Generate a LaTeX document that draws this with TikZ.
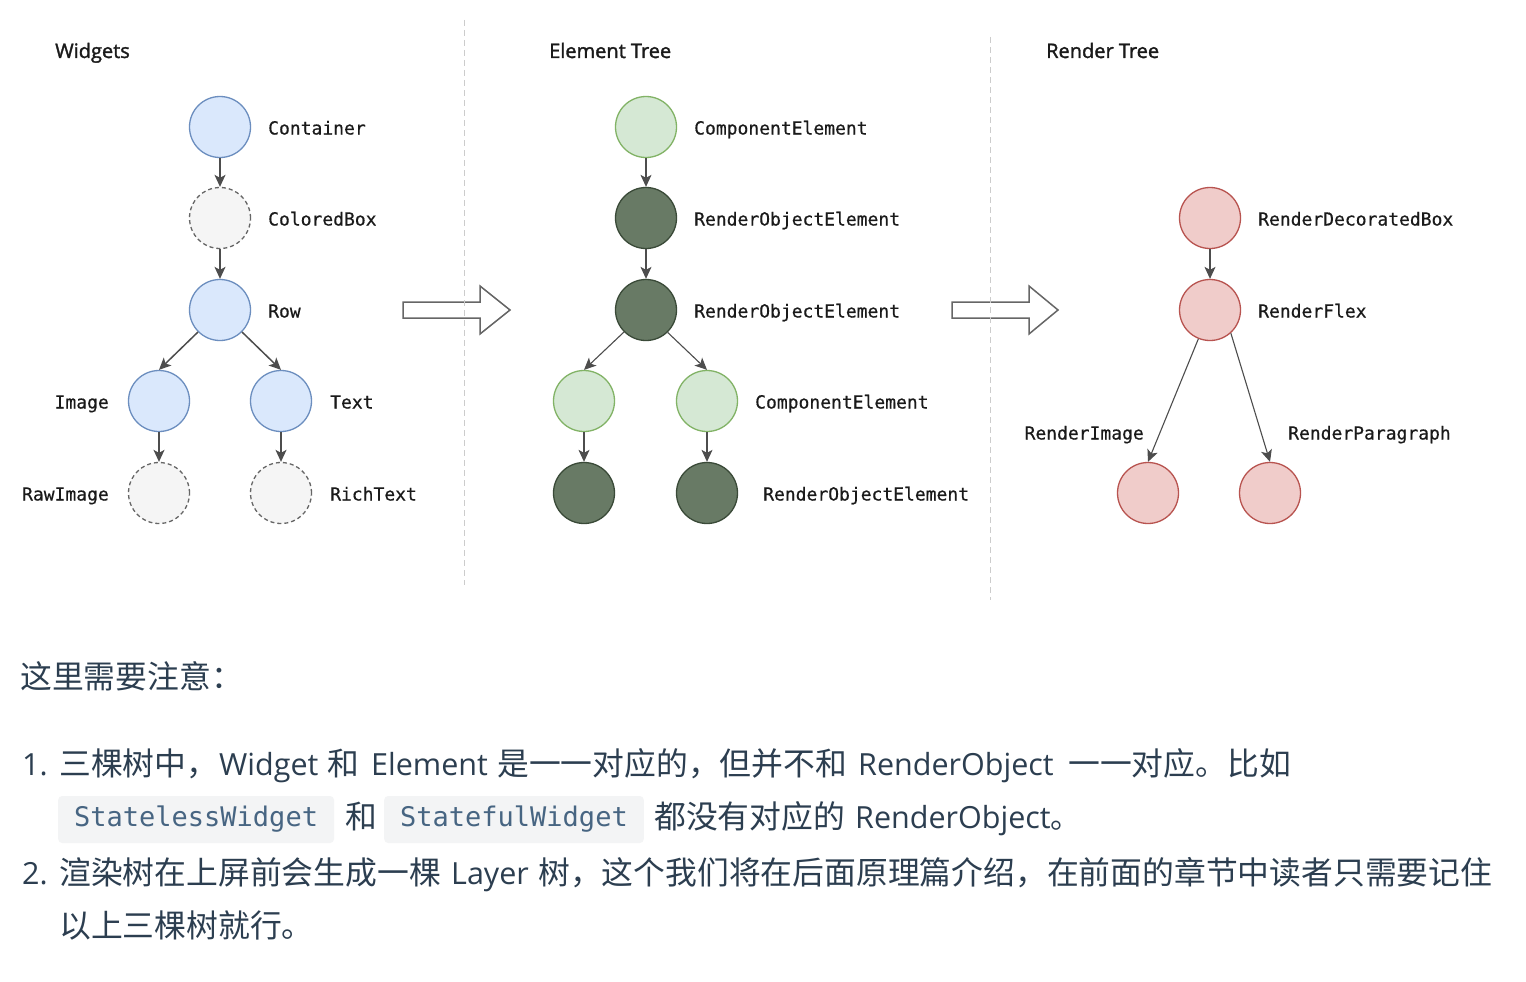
\documentclass[tikz,border=0pt]{standalone}
\usepackage{fontspec}
\setmainfont{Open Sans}
\newfontfamily\titlef[FakeBold=1.6]{Open Sans}
\newfontfamily\cjk{Noto Sans CJK SC}
\newfontfamily\monof{DejaVu Sans Mono}
\newfontfamily\monob[FakeBold=0.5]{DejaVu Sans Mono}
\usetikzlibrary{arrows.meta}
\definecolor{bluefill}{HTML}{DAE8FC}
\definecolor{blueedge}{HTML}{6C8EBF}
\definecolor{greyfill}{HTML}{F5F5F5}
\definecolor{greyedge}{HTML}{666666}
\definecolor{lgfill}{HTML}{D5E8D4}
\definecolor{lgedge}{HTML}{82B366}
\definecolor{dgfill}{HTML}{687A65}
\definecolor{dgedge}{HTML}{3A4A38}
\definecolor{rfill}{HTML}{F0CCCA}
\definecolor{redge}{HTML}{B85450}
\definecolor{arrowc}{HTML}{4D4D4D}
\definecolor{sepc}{HTML}{CCCCCC}
\definecolor{bigc}{HTML}{666666}
\definecolor{txtc}{HTML}{2C3E50}
\definecolor{codebg}{HTML}{F3F4F5}
\definecolor{codec}{HTML}{476582}
\definecolor{lblc}{HTML}{1A1A1A}
\tikzset{
  circ/.style={circle, minimum size=61pt, inner sep=0pt, line width=1.3pt},
  wblue/.style={circ, draw=blueedge, fill=bluefill},
  wgrey/.style={circ, draw=greyedge, fill=greyfill, dash pattern=on 4pt off 3pt},
  elight/.style={circ, draw=lgedge, fill=lgfill},
  edark/.style={circ, draw=dgedge, fill=dgfill},
  rred/.style={circ, draw=redge, fill=rfill},
  lbl/.style={anchor=base west, inner sep=0pt, text=lblc, font=\monob\fontsize{18}{20}\selectfont},
  lblr/.style={lbl, anchor=base east},
  ttl/.style={anchor=base west, inner sep=0pt, text=lblc, font=\titlef\fontsize{20}{24}\selectfont},
  conn/.style={draw=arrowc, line width=1.5pt, -{Stealth[length=12pt,width=11pt,inset=3pt]}},
  connb/.style={conn, line width=1.1pt},
  sepline/.style={draw=sepc, line width=1pt, dash pattern=on 6pt off 4pt},
  bigarrow/.style={draw=bigc, fill=white, line width=1.5pt, line join=miter},
  para/.style={anchor=base west, inner sep=0pt, text=txtc, font=\fontsize{30.5}{36}\selectfont},
  zh/.style={para, font=\cjk\fontsize{31.8}{36}\selectfont},
  codebox/.style={anchor=west, fill=codebg, rounded corners=4pt, inner xsep=16pt, inner ysep=0pt, minimum height=47pt, text=codec, font=\monof\fontsize{27}{30}\selectfont},
}
\begin{document}
\begin{tikzpicture}[x=1pt,y=-1pt]
\useasboundingbox[fill=white] (0,0) rectangle (1526,982);

% big arrows
\draw[bigarrow] (403,302) -- (480,302) -- (480,286) -- (510,310) -- (480,334) -- (480,318) -- (403,318) -- cycle;
\draw[bigarrow] (952,302) -- (1029,302) -- (1029,286) -- (1058,310) -- (1029,334) -- (1029,318) -- (952,318) -- cycle;

% separators
\draw[sepline] (464,20) -- (464,585);
\draw[sepline] (990,37) -- (990,600);

% titles
\node[ttl] (t1) at (55,58) {Widgets};
\node[ttl] (t2) at (549,58) {Element Tree};
\node[ttl] (t3) at (1046,58) {Render Tree};

% Widgets tree
\node[wblue] (wcont) at (220,127) {};
\node[wgrey] (wcbox) at (220,218) {};
\node[wblue] (wrow) at (220,310) {};
\node[wblue] (wimg) at (159,401) {};
\node[wblue] (wtxt) at (281,401) {};
\node[wgrey] (wraw) at (159,493) {};
\node[wgrey] (wrich) at (281,493) {};
\node[lbl] (lcont) at (268,134.5) {Container};
\node[lbl] (lcbox) at (268,225.5) {ColoredBox};
\node[lbl] (lrow) at (268,317.5) {Row};
\node[lblr] (limg) at (109,408.5) {Image};
\node[lbl] (ltxt) at (330,408.5) {Text};
\node[lblr] (lraw) at (109,500.5) {RawImage};
\node[lbl] (lrich) at (330,500.5) {RichText};
\draw[conn] (wcont.south) -- (wcbox.north);
\draw[conn] (wcbox.south) -- (wrow.north);
\draw[conn] (wrow.225) -- (wimg.north);
\draw[conn] (wrow.315) -- (wtxt.north);
\draw[conn] (wimg.south) -- (wraw.north);
\draw[conn] (wtxt.south) -- (wrich.north);

% Element tree
\node[elight] (e1) at (646,127) {};
\node[edark] (e2) at (646,218) {};
\node[edark] (e3) at (646,310) {};
\node[elight] (e4) at (584,401) {};
\node[elight] (e5) at (707,401) {};
\node[edark] (e6) at (584,493) {};
\node[edark] (e7) at (707,493) {};
\node[lbl] (le1) at (694,134.5) {ComponentElement};
\node[lbl] (le2) at (694,225.5) {RenderObjectElement};
\node[lbl] (le3) at (694,317.5) {RenderObjectElement};
\node[lbl] (le5) at (755,408.5) {ComponentElement};
\node[lbl] (le7) at (763,500.5) {RenderObjectElement};
\draw[connb] (e1.south) -- (e2.north);
\draw[connb] (e2.south) -- (e3.north);
\draw[connb] (e3.225) -- (e4.north);
\draw[connb] (e3.314) -- (e5.north);
\draw[connb] (e4.south) -- (e6.north);
\draw[connb] (e5.south) -- (e7.north);

% Render tree
\node[rred] (r1) at (1210,218) {};
\node[rred] (r2) at (1210,310) {};
\node[rred] (r3) at (1148,493) {};
\node[rred] (r4) at (1270,493) {};
\node[lbl] (lr1) at (1258,225.5) {RenderDecoratedBox};
\node[lbl] (lr2) at (1258,317.5) {RenderFlex};
\node[lblr] (lr3) at (1144,439.5) {RenderImage};
\node[lbl] (lr4) at (1288,439.5) {RenderParagraph};
\draw[connb] (r1.south) -- (r2.north);
\draw[connb] (r2.248) -- (r3.north);
\draw[connb] (r2.312) -- (r4.north);

% paragraph text
\node[zh] (h0) at (20,688) {这里需要注意：};

\node[para] (n1) at (22,775) {1.};
\node[zh] (a1) at (59,775) {三棵树中，};
\node[para] (a2) at (219,775) {Widget};
\node[zh] (a3) at (327,775) {和};
\node[para] (a4) at (371,775) {Element};
\node[zh] (a5) at (497,775) {是一一对应的，但并不和};
\node[para] (a6) at (858,775) {RenderObject};
\node[zh] (a7) at (1068,775) {一一对应。比如};

\node[codebox] (c1) at (58,819.5) {StatelessWidget};
\node[zh] (b1) at (345,828) {和};
\node[codebox] (c2) at (384,819.5) {StatefulWidget};
\node[zh] (b2) at (654,828) {都没有对应的};
\node[para] (b3) at (855,828) {RenderObject{\cjk 。}};

\node[para] (n2) at (22,884) {2.};
\node[zh] (d1) at (59,884) {渲染树在上屏前会生成一棵};
\node[para] (d2) at (451,884) {Layer};
\node[zh] (d3) at (538,884) {树，这个我们将在后面原理篇介绍，在前面的章节中读者只需要记住};

\node[zh] (f1) at (59,937) {以上三棵树就行。};
\end{tikzpicture}
\end{document}
